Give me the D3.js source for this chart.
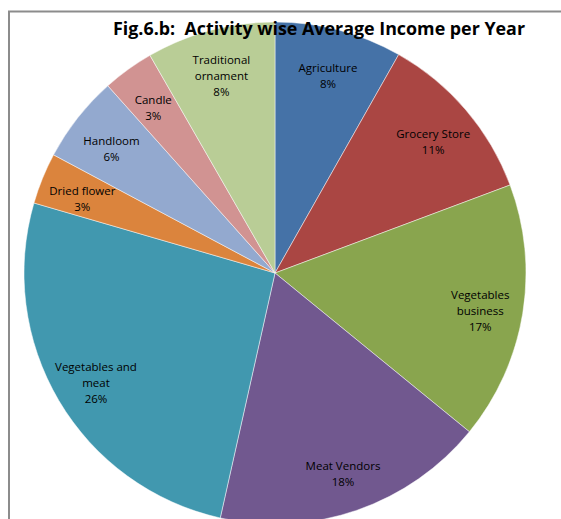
<!DOCTYPE html>
<html>
<head>
<meta charset="utf-8">
<script src="https://cdn.jsdelivr.net/npm/d3@7"></script>
<style>
  body { margin: 0; background: #fff; }
  svg { display: block; }
</style>
</head>
<body>
<div id="piearea"></div>
<script>
// activity names (clockwise from 12 o'clock), "\n" marks a label line break
const categories = ["Agriculture", "Grocery Store", "Vegetables\nbusiness", "Meat Vendors",
        "Vegetables and\nmeat", "Dried flower", "Handloom", "Candle", "Traditional\nornament"];
// share of average income per year (%)
const values = [8.2, 11.1, 16.6, 17.6, 26.0, 3.3, 5.6, 3.3, 8.3];
const colors = ["#4572A7", "#AA4643", "#89A54E", "#71588F", "#4198AF",
        "#DB843D", "#93A9CF", "#D19392", "#B9CD96"];
const title = "Fig.6.b:  Activity wise Average Income per Year";

let width = 561,
        height = 519,
        radius = 251;

let svg = d3.select("#piearea")
        .append("svg")
        .attr("width", width)
        .attr("height", height);

// chart frame (only top and left edges are visible)
svg.append("path")
        .attr("d", "M9,519 L9,11.5 L561,11.5")
        .attr("fill", "none")
        .attr("stroke", "#8c8c8c")
        .attr("stroke-width", 2);

let details = categories.map((c, i) => ({ category: c, number: values[i], color: colors[i] }));
let total = d3.sum(values);

let data = d3.pie().sort(null).value(d => d.number)(details);

let segments = d3.arc().innerRadius(0).outerRadius(radius);
let labelArc = d3.arc().innerRadius(208).outerRadius(208);

let g = svg.append("g").attr("transform", "translate(275,273)");

g.selectAll("path").data(data).enter().append("path")
        .attr("d", segments)
        .attr("fill", d => d.data.color)
        .attr("stroke", "#ffffff")
        .attr("stroke-width", 0.6)
        .attr("stroke-opacity", 0.8);

let labels = g.selectAll(".label").data(data).enter().append("text")
        .classed("label", true)
        .attr("text-anchor", "middle")
        .style("font-family", "'Open Sans', 'Noto Sans', sans-serif")
        .style("font-size", "11.5px")
        .attr("fill", "#000");

labels.each(function (d) {
        let c = labelArc.centroid(d);
        let lines = d.data.category.split("\n");
        lines.push(Math.round(d.data.number / total * 100) + "%");
        let top = c[1] + 4 - (lines.length - 1) * 16 / 2;
        let t = d3.select(this);
        lines.forEach((ln, i) => {
                t.append("tspan").attr("x", c[0]).attr("y", top + i * 16).attr("dy", "0.35em").text(ln);
        });
});

svg.append("text")
        .attr("x", 319)
        .attr("y", 35)
        .attr("text-anchor", "middle")
        .attr("textLength", 412)
        .attr("lengthAdjust", "spacingAndGlyphs")
        .style("white-space", "pre")
        .style("font-family", "'Open Sans', sans-serif")
        .style("font-weight", "bold")
        .style("font-size", "18px")
        .attr("fill", "#000")
        .text(title);
</script>
</body>
</html>
